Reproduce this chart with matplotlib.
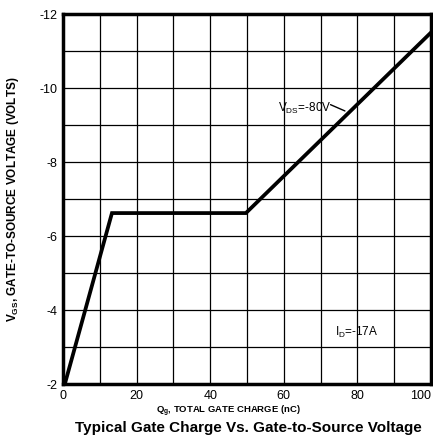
import matplotlib
matplotlib.use("Agg")
import matplotlib.pyplot as plt

# Data
qg = [0.5, 13.3, 49.7, 100]
vgs = [-2.0, -6.62, -6.62, -11.5]
x_ticks = [0, 20, 40, 60, 80, 100]
y_ticks = [-2, -4, -6, -8, -10, -12]

plt.rcParams['font.family'] = ['Liberation Sans', 'DejaVu Sans']
plt.rcParams['axes.unicode_minus'] = False

fig = plt.figure(figsize=(4.33, 4.42), dpi=100)
ax = fig.add_axes([0.1455, 0.1312, 0.8499, 0.8371])

ax.set_xlim(0, 100)
ax.set_ylim(-2, -12)

# grid
for gx in range(10, 100, 10):
    ax.axvline(gx, color='black', lw=0.9, zorder=1)
for gy in range(-3, -12, -1):
    ax.axhline(gy, color='black', lw=0.9, zorder=1)

ax.plot(qg, vgs, color='black', lw=2.7, solid_joinstyle='miter', zorder=3)

ax.set_xticks(x_ticks)
ax.set_yticks(y_ticks)
ax.tick_params(length=0, labelsize=9, pad=4)
xt = ax.get_xticklabels()
xt[-1].set_horizontalalignment('right')
for s in ax.spines.values():
    s.set_linewidth(2.5)

ax.annotate('', xy=(77.3, -9.35), xytext=(72.0, -9.58),
            arrowprops=dict(arrowstyle='-', color='black', lw=1.0))
ax.text(58.3, -9.45, r'V$_{\mathregular{DS}}$=-80V', fontsize=8.5, va='center', ha='left')
ax.text(74.0, -3.4, r'I$_{\mathregular{D}}$=-17A', fontsize=8.5, va='center', ha='left')

fig.text(228 / 433, 1 - 411 / 442, r'Q$_{\mathregular{g}}$, TOTAL GATE CHARGE (nC)',
         fontsize=6.8, fontweight='bold', ha='center', va='center')
fig.text(13 / 433, 1 - 199 / 442, r'V$_{\mathregular{GS}}$, GATE-TO-SOURCE VOLTAGE (VOLTS)',
         fontsize=8.5, fontweight='bold', ha='center', va='center', rotation=90)

fig.text(248 / 433, 1 - 428 / 442, 'Typical Gate Charge Vs. Gate-to-Source Voltage', fontsize=11,
         fontweight='bold', ha='center', va='center')

fig.savefig('out.png', dpi=100)
